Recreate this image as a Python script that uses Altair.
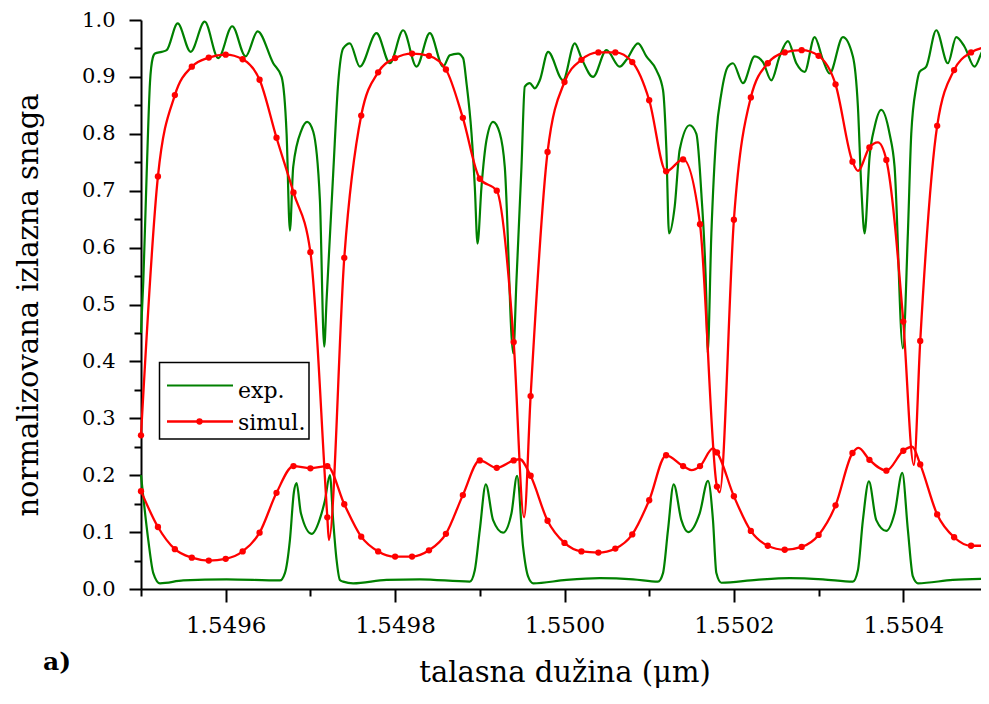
import altair as alt
import pandas as pd

# ---------------- data ----------------
# simulated curves: sampled every 0.00002 um (marker positions)
sim_lam = [1.54950, 1.54952, 1.54954, 1.54956, 1.54958, 1.54960, 1.54962, 1.54964, 1.54966, 1.54968,
           1.54970, 1.54972, 1.54974, 1.54976, 1.54978, 1.54980, 1.54982, 1.54984, 1.54986, 1.54988,
           1.54990, 1.54992, 1.54994, 1.54996, 1.54998, 1.55000, 1.55002, 1.55004, 1.55006, 1.55008,
           1.55010, 1.55012, 1.55014, 1.55016, 1.55018, 1.55020, 1.55022, 1.55024, 1.55026, 1.55028,
           1.55030, 1.55032, 1.55034, 1.55036, 1.55038, 1.55040, 1.55042, 1.55044, 1.55046, 1.55048,
           1.55050]
sim_hi = [0.270, 0.725, 0.868, 0.918, 0.934, 0.939, 0.931, 0.895, 0.793, 0.697,
          0.592, 0.126, 0.582, 0.832, 0.908, 0.933, 0.941, 0.937, 0.913, 0.828,
          0.721, 0.700, 0.434, 0.339, 0.768, 0.891, 0.930, 0.943, 0.943, 0.926,
          0.859, 0.734, 0.755, 0.641, 0.180, 0.649, 0.864, 0.924, 0.943, 0.947,
          0.937, 0.887, 0.751, 0.776, 0.754, 0.470, 0.436, 0.814, 0.912, 0.943,
          0.953]
sim_lo = [0.172, 0.109, 0.070, 0.055, 0.050, 0.053, 0.066, 0.099, 0.169, 0.216,
          0.212, 0.216, 0.149, 0.092, 0.066, 0.057, 0.057, 0.068, 0.097, 0.165,
          0.226, 0.213, 0.226, 0.199, 0.120, 0.081, 0.066, 0.064, 0.071, 0.096,
          0.156, 0.235, 0.216, 0.216, 0.240, 0.163, 0.102, 0.076, 0.069, 0.074,
          0.095, 0.147, 0.239, 0.227, 0.208, 0.243, 0.219, 0.131, 0.091, 0.076,
          0.076]
# extra (unmarked) simulation points at the narrow features
sim_hi_extra_lam = [1.5497218, 1.5499523, 1.5501832, 1.5503464, 1.5503700, 1.5504124]
sim_hi_extra_val = [0.086, 0.126, 0.170, 0.735, 0.785, 0.218]
sim_lo_extra_lam = [1.5499472, 1.5501500, 1.5501753, 1.5503472, 1.5504106]
sim_lo_extra_val = [0.228, 0.209, 0.247, 0.248, 0.250]

# experimental curves
exp_hi_lam = [1.5495000, 1.5495027, 1.5495067, 1.5495106, 1.5495138, 1.5495165, 1.5495244, 1.5495303,
              1.5495433, 1.5495586, 1.5495752, 1.5495912, 1.5496077, 1.5496235, 1.5496377, 1.5496561,
              1.5496660, 1.5496719, 1.5496758, 1.5496797, 1.5496896, 1.5496962, 1.5497033, 1.5497112,
              1.5497163, 1.5497191, 1.5497269, 1.5497328, 1.5497387, 1.5497466, 1.5497584, 1.5497781,
              1.5497938, 1.5498095, 1.5498253, 1.5498410, 1.5498567, 1.5498646, 1.5498744, 1.5498803,
              1.5498843, 1.5498902, 1.5498941, 1.5498973, 1.5499020, 1.5499079, 1.5499157, 1.5499236,
              1.5499295, 1.5499395, 1.5499433, 1.5499492, 1.5499531, 1.5499590, 1.5499649, 1.5499708,
              1.5499806, 1.5499983, 1.5500121, 1.5500200, 1.5500337, 1.5500495, 1.5500652, 1.5500731,
              1.5500868, 1.5500967, 1.5501085, 1.5501163, 1.5501203, 1.5501234, 1.5501301, 1.5501360,
              1.5501478, 1.5501557, 1.5501616, 1.5501675, 1.5501690, 1.5501734, 1.5501793, 1.5501852,
              1.5501930, 1.5501989, 1.5502107, 1.5502245, 1.5502343, 1.5502442, 1.5502540, 1.5502638,
              1.5502737, 1.5502835, 1.5502953, 1.5503051, 1.5503130, 1.5503287, 1.5503405, 1.5503464,
              1.5503504, 1.5503543, 1.5503602, 1.5503661, 1.5503740, 1.5503838, 1.5503897, 1.5503995,
              1.5504054, 1.5504094, 1.5504153, 1.5504192, 1.5504271, 1.5504389, 1.5504526, 1.5504625,
              1.5504723, 1.5504841, 1.5504939, 1.5505000]
exp_hi_val = [0.450, 0.540, 0.730, 0.890, 0.933, 0.941, 0.944, 0.947,
              0.994, 0.944, 0.997, 0.933, 0.989, 0.936, 0.980, 0.924,
              0.900, 0.800, 0.630, 0.742, 0.807, 0.821, 0.804, 0.684,
              0.426, 0.508, 0.730, 0.889, 0.950, 0.959, 0.918, 0.977,
              0.924, 0.982, 0.918, 0.977, 0.918, 0.938, 0.941, 0.933,
              0.889, 0.801, 0.707, 0.607, 0.707, 0.789, 0.821, 0.801,
              0.742, 0.414, 0.543, 0.742, 0.883, 0.889, 0.880, 0.894,
              0.944, 0.894, 0.959, 0.933, 0.900, 0.947, 0.918, 0.930,
              0.959, 0.936, 0.912, 0.877, 0.772, 0.625, 0.672, 0.772,
              0.815, 0.800, 0.695, 0.508, 0.415, 0.625, 0.800, 0.871,
              0.918, 0.924, 0.889, 0.936, 0.926, 0.894, 0.936, 0.963,
              0.924, 0.909, 0.970, 0.930, 0.906, 0.970, 0.936, 0.848,
              0.707, 0.625, 0.760, 0.812, 0.842, 0.800, 0.742, 0.423,
              0.625, 0.800, 0.883, 0.909, 0.918, 0.982, 0.924, 0.970,
              0.953, 0.918, 0.947, 0.956]
exp_lo_lam = [1.5495000, 1.5495086, 1.5495145, 1.5495224, 1.5495499, 1.5496011, 1.5496640, 1.5496699,
              1.5496758, 1.5496805, 1.5496837, 1.5496888, 1.5497014, 1.5497132, 1.5497171, 1.5497230,
              1.5497269, 1.5497309, 1.5497348, 1.5497387, 1.5497505, 1.5497899, 1.5498292, 1.5498882,
              1.5498941, 1.5499000, 1.5499071, 1.5499157, 1.5499275, 1.5499374, 1.5499440, 1.5499511,
              1.5499570, 1.5499629, 1.5500023, 1.5500416, 1.5500809, 1.5501104, 1.5501163, 1.5501222,
              1.5501289, 1.5501380, 1.5501459, 1.5501596, 1.5501694, 1.5501753, 1.5501793, 1.5501852,
              1.5502265, 1.5502658, 1.5503051, 1.5503405, 1.5503464, 1.5503523, 1.5503594, 1.5503681,
              1.5503799, 1.5503897, 1.5503988, 1.5504054, 1.5504113, 1.5504172, 1.5504585, 1.5505000]
exp_lo_val = [0.200, 0.086, 0.028, 0.010, 0.015, 0.017, 0.015, 0.028,
              0.086, 0.170, 0.186, 0.133, 0.097, 0.133, 0.155, 0.200,
              0.120, 0.051, 0.016, 0.013, 0.010, 0.016, 0.017, 0.013,
              0.033, 0.104, 0.184, 0.121, 0.099, 0.133, 0.199, 0.074,
              0.022, 0.010, 0.016, 0.019, 0.017, 0.013, 0.028, 0.104,
              0.184, 0.121, 0.100, 0.133, 0.190, 0.121, 0.028, 0.011,
              0.016, 0.019, 0.017, 0.013, 0.033, 0.121, 0.189, 0.121,
              0.102, 0.133, 0.204, 0.104, 0.022, 0.010, 0.016, 0.018]

x_ticks = [1.5495, 1.5496, 1.5497, 1.5498, 1.5499, 1.5500, 1.5501, 1.5502, 1.5503, 1.5504, 1.5505]
y_ticks = [0.0, 0.05, 0.1, 0.15, 0.2, 0.25, 0.3, 0.35, 0.4, 0.45, 0.5,
           0.55, 0.6, 0.65, 0.7, 0.75, 0.8, 0.85, 0.9, 0.95, 1.0]

GREEN = "#008000"
RED = "#ff0000"
FONT = "DejaVu Serif"

# ---------------- tables ----------------
exp_df = pd.concat([
    pd.DataFrame({"lam": exp_hi_lam, "val": exp_hi_val, "curve": "hi"}),
    pd.DataFrame({"lam": exp_lo_lam, "val": exp_lo_val, "curve": "lo"}),
])
sim_pts = pd.concat([
    pd.DataFrame({"lam": sim_lam, "val": sim_hi, "curve": "hi"}),
    pd.DataFrame({"lam": sim_lam, "val": sim_lo, "curve": "lo"}),
])
sim_line = pd.concat([
    sim_pts,
    pd.DataFrame({"lam": sim_hi_extra_lam, "val": sim_hi_extra_val, "curve": "hi"}),
    pd.DataFrame({"lam": sim_lo_extra_lam, "val": sim_lo_extra_val, "curve": "lo"}),
]).sort_values(["curve", "lam"])

x_major = "round(datum.value*10000) % 2 == 0"
y_major = "round(datum.value*100) % 10 == 0"

x_enc = alt.X(
    "lam:Q",
    scale=alt.Scale(domain=[1.5495, 1.5505], nice=False, zero=False),
    title="talasna dužina (μm)",
    axis=alt.Axis(
        values=x_ticks,
        labelExpr=f"{x_major} ? format(datum.value, '.4f') : ''",
        tickSize={"condition": {"test": x_major, "value": 13}, "value": 7},
        labelPadding=12,
        labelFontSize=23,
        labelFlush=False,
        labelOverlap=False,
        titleX=423.5,
        titleY=92,
        titleAlign="center",
        titleBaseline="alphabetic",
        grid=False,
    ),
)
y_enc = alt.Y(
    "val:Q",
    scale=alt.Scale(domain=[0, 1], nice=False, zero=False),
    title="normalizovana izlazna snaga",
    axis=alt.Axis(
        values=y_ticks,
        labelExpr=f"{y_major} ? format(datum.value, '.1f') : ''",
        tickSize={"condition": {"test": y_major, "value": 12}, "value": 7},
        labelPadding=14,
        labelFontSize=21,
        labelFlush=False,
        labelOverlap=False,
        titleX=-104,
        titleY=284.5,
        titleAngle=270,
        titleAlign="center",
        titleBaseline="alphabetic",
        grid=False,
    ),
)

exp_layer = alt.Chart(exp_df).mark_line(
    color=GREEN, strokeWidth=2.2, interpolate="monotone"
).encode(x=x_enc, y=y_enc, detail="curve:N")

sim_layer = alt.Chart(sim_line).mark_line(
    color=RED, strokeWidth=2.3, interpolate="monotone"
).encode(x=x_enc, y=y_enc, detail="curve:N")

sim_marks = alt.Chart(sim_pts).mark_circle(
    color=RED, size=40, opacity=1
).encode(x=x_enc, y=y_enc)

# ---------------- legend ----------------
one = pd.DataFrame({"k": [0]})
leg_box = alt.Chart(one).mark_rect(fill=None, stroke="black", strokeWidth=1.5).encode(
    x=alt.value(18.5), x2=alt.value(168), y=alt.value(342.5), y2=alt.value(419)
)
leg_exp_line = alt.Chart(one).mark_rule(color=GREEN, strokeWidth=2).encode(
    x=alt.value(26), x2=alt.value(92), y=alt.value(365.5)
)
leg_sim_line = alt.Chart(one).mark_rule(color=RED, strokeWidth=2.3).encode(
    x=alt.value(26), x2=alt.value(92), y=alt.value(401.5)
)
leg_sim_dot = alt.Chart(one).mark_circle(color=RED, size=40, opacity=1).encode(
    x=alt.value(58.5), y=alt.value(401.5)
)
leg_exp_text = alt.Chart(one).mark_text(
    text="exp.", align="left", baseline="alphabetic", font=FONT, fontSize=22, color="black"
).encode(x=alt.value(97), y=alt.value(378))
leg_sim_text = alt.Chart(one).mark_text(
    text="simul.", align="left", baseline="alphabetic", font=FONT, fontSize=22, color="black"
).encode(x=alt.value(97), y=alt.value(410))
panel_label = alt.Chart(one).mark_text(
    text="a)", align="left", baseline="alphabetic", font=FONT, fontSize=25,
    fontWeight="bold", color="black"
).encode(x=alt.value(-98), y=alt.value(650))

chart = alt.layer(
    exp_layer, sim_layer, sim_marks,
    leg_box, leg_exp_line, leg_sim_line, leg_sim_dot, leg_exp_text, leg_sim_text,
    panel_label,
).properties(
    width=847,
    height=569,
    padding={"left": 133, "top": 12, "right": -7, "bottom": 99},
    autosize=alt.AutoSizeParams(type="none"),
    background="white",
).configure_view(
    stroke=None
).configure_axis(
    domainColor="black",
    domainWidth=2,
    tickColor="black",
    tickWidth=2,
    labelFont=FONT,
    labelColor="black",
    titleFont=FONT,
    titleFontSize=29,
    titleFontWeight="normal",
    titleColor="black",
)

chart.save("out.html", embed_options={"renderer": "svg", "actions": False})
